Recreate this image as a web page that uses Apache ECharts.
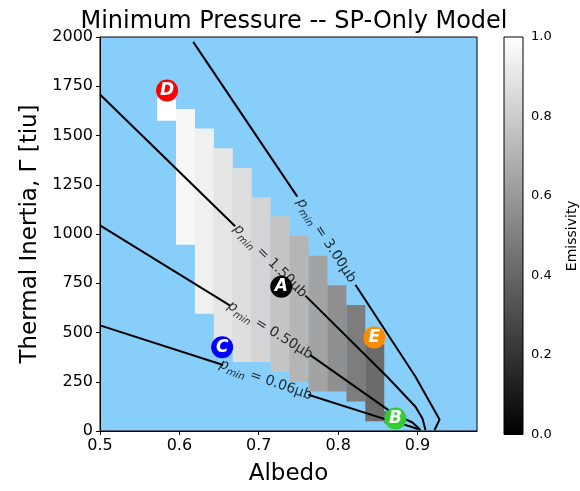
<!DOCTYPE html>
<html><head><meta charset="utf-8">
<script src="https://cdn.jsdelivr.net/npm/echarts@6/dist/echarts.min.js"></script>
<style>html,body{margin:0;padding:0;background:#fff}#c{width:580px;height:491px}</style>
</head><body><div id="c"></div>
<script>
// ---- data ----
const colAlbedo      = [0.5838, 0.6077, 0.6315, 0.6554, 0.6792, 0.7031, 0.7270, 0.7508, 0.7747, 0.7985, 0.8224, 0.8462, 0.8701];
const colTIBottom    = [1575, 945, 595, 400, 350, 350, 300, 250, 200, 200, 150, 50, 40];
const colTITop       = [1690, 1635, 1535, 1435, 1335, 1185, 1090, 990, 890, 740, 640, 440, 100];
const colEmissivity  = [1.00, 0.97, 0.94, 0.90, 0.87, 0.83, 0.77, 0.71, 0.64, 0.56, 0.49, 0.42, 0.40];
const cellWidth = 0.0239;

// contour segments [albedo, thermal inertia]
const contour300a = [[0.6174,1975],[0.7486,1190]];
const contour300b = [[0.8218,742],[0.8975,275],[0.9278,58],[0.9215,5]];
const contour150a = [[0.5,1708],[0.6703,1039]];
const contour150b = [[0.7587,687],[0.8621,274],[0.8975,123],[0.9063,63],[0.9101,5]];
const contour050a = [[0.5,1044],[0.6640,636]];
const contour050b = [[0.7650,385],[0.8697,88],[0.8937,43],[0.9038,5]];
const contour006a = [[0.5,536],[0.6552,335]];
const contour006b = [[0.7625,184],[0.8571,63],[0.8912,23],[0.9013,8]];

const contourLevels   = ['3.00', '1.50', '0.50', '0.06'];
const contourLabelPos = [[0.7852,966],[0.7145,863],[0.7145,511],[0.7088,259]];
const contourLabelRot = [-57, -45, -32, -19.5];

const markerLabels = ['A','B','C','D','E'];
const markerAlbedo = [0.7284, 0.8722, 0.6539, 0.5845, 0.8457];
const markerTI     = [732, 63, 425, 1728, 475];
const markerColors = ['#000000', '#32cd32', '#0000ff', '#ff0000', '#ff8c00'];

const xTickValues = [0.5, 0.6, 0.7, 0.8, 0.9];
const cbarTicks = [0.0, 0.2, 0.4, 0.6, 0.8, 1.0];

// ---- chart ----
const FONT = 'DejaVu Sans';
const chart = echarts.init(document.getElementById('c'));
const cells = colAlbedo.map((a,i)=>[a, colTIBottom[i], colTITop[i], colEmissivity[i]]);
function gray(v){const g=Math.round(v*255);return 'rgb('+g+','+g+','+g+')';}

const lineSeries = [contour300a,contour300b,contour150a,contour150b,contour050a,contour050b,contour006a,contour006b].map(seg=>({
  type:'line', data:seg, xAxisIndex:0, yAxisIndex:0, showSymbol:false, symbol:'none', silent:true,
  lineStyle:{color:'#000', width:2}, z:3, animation:false
}));

const labelSeries = {
  type:'scatter', xAxisIndex:0, yAxisIndex:0, symbolSize:0, silent:true, z:4, animation:false,
  data: contourLevels.map((lv,i)=>({
    value: contourLabelPos[i],
    label:{show:true, position:'inside', rotate:contourLabelRot[i],
      formatter:'{p|p}{s|min}{t| = '+lv+'μb}'}
  })),
  label:{ color:'#000', rich:{
    p:{fontFamily:FONT, fontSize:14, fontStyle:'italic', color:'#000', lineHeight:20},
    s:{fontFamily:FONT, fontSize:10, fontStyle:'italic', color:'#000', lineHeight:10, padding:[10,0,0,0]},
    t:{fontFamily:FONT, fontSize:14, color:'#000', lineHeight:20}
  }}
};

const markerSeries = {
  type:'scatter', xAxisIndex:0, yAxisIndex:0, symbol:'circle', symbolSize:22, z:5, animation:false, silent:true,
  itemStyle:{opacity:1},
  data: markerLabels.map((l,i)=>({value:[markerAlbedo[i], markerTI[i]], name:l, itemStyle:{color:markerColors[i], opacity:1}})),
  label:{show:true, position:'inside', formatter:p=>p.name, color:'#fff', fontFamily:FONT, fontSize:17, fontWeight:'bold', fontStyle:'italic'}
};

const cellSeries = {
  type:'custom', xAxisIndex:0, yAxisIndex:0, data:cells, encode:{x:0,y:[1,2]}, clip:true, z:1, animation:false, silent:true,
  renderItem:(params, api)=>{
    const a=api.value(0), b=api.value(1), t=api.value(2), v=api.value(3);
    const p0=api.coord([a-cellWidth/2, t]), p1=api.coord([a+cellWidth/2, b]);
    return {type:'rect', shape:{x:p0[0], y:p0[1], width:p1[0]-p0[0], height:p1[1]-p0[1]}, style:{fill:gray(v)}};
  }
};

const cbarSeries = {
  type:'custom', xAxisIndex:1, yAxisIndex:1, data:[[0,0]], z:1, animation:false, silent:true,
  renderItem:(params, api)=>{
    const p0=api.coord([0,1]), p1=api.coord([1,0]);
    return {type:'rect', shape:{x:p0[0], y:p0[1], width:p1[0]-p0[0], height:p1[1]-p0[1]},
      style:{fill:new echarts.graphic.LinearGradient(0,0,0,1,[{offset:0,color:'#ffffff'},{offset:1,color:'#000000'}]), stroke:'#000', lineWidth:1}};
  }
};

chart.setOption({
  animation:false,
  backgroundColor:'#ffffff',
  title:{text:'Minimum Pressure -- SP-Only Model', left:289, top:5, textAlign:'center',
    textStyle:{fontFamily:FONT, fontSize:24, fontWeight:'normal', color:'#000'}},
  grid:[
    {left:100, top:37, width:377, height:397.5, show:true, backgroundColor:'#87cefa', borderColor:'#000', borderWidth:1},
    {left:504, top:37, width:20, height:397.5, show:false}
  ],
  xAxis:[
    {type:'value', gridIndex:0, min:0.5, max:0.975, interval:0.1,
     name:'Albedo', nameLocation:'middle', nameGap:32,
     nameTextStyle:{fontFamily:FONT, fontSize:23, color:'#000'},
     axisLine:{show:true, onZero:false, lineStyle:{color:'#000', width:1}},
     axisTick:{show:true, length:4, lineStyle:{color:'#000'}},
     axisLabel:{fontFamily:FONT, fontSize:16, color:'#000', margin:7, showMaxLabel:false,
       formatter:v=>xTickValues.some(t=>Math.abs(t-v)<1e-6)?v.toFixed(1):''},
     splitLine:{show:false}},
    {type:'value', gridIndex:1, min:0, max:1, show:false}
  ],
  yAxis:[
    {type:'value', gridIndex:0, min:0, max:2000, interval:250,
     name:'Thermal Inertia, Γ [tiu]', nameLocation:'middle', nameGap:58,
     nameTextStyle:{fontFamily:FONT, fontSize:23, color:'#000'},
     axisLine:{show:true, onZero:false, lineStyle:{color:'#000', width:1}},
     axisTick:{show:true, length:4, lineStyle:{color:'#000'}},
     axisLabel:{fontFamily:FONT, fontSize:16, color:'#000', margin:7, formatter:v=>String(v)},
     splitLine:{show:false}},
    {type:'value', gridIndex:1, min:0, max:1, interval:0.2, position:'right',
     name:'Emissivity', nameLocation:'middle', nameGap:42,
     nameTextStyle:{fontFamily:FONT, fontSize:14, color:'#000'},
     axisLine:{show:false},
     axisTick:{show:true, length:4, lineStyle:{color:'#000'}},
     axisLabel:{fontFamily:FONT, fontSize:13, color:'#000', margin:8, formatter:v=>v.toFixed(1)},
     splitLine:{show:false}}
  ],
  series:[cellSeries, ...lineSeries, labelSeries, markerSeries, cbarSeries]
});
</script></body></html>
